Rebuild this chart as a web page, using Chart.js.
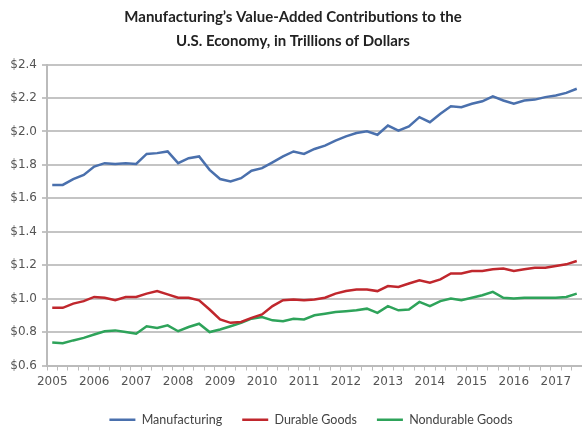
<!DOCTYPE html>
<html lang="en">
  <head>
    <meta charset="UTF-8" />
    <title>Manufacturing Value-Added</title>
    <script src="https://cdn.jsdelivr.net/npm/chart.js"></script>
    <style>
      body {
        margin: 0;
        padding: 0;
        background: #fff;
      }
      .chart-container {
        width: 582px;
        height: 426px;
        position: relative;
      }
    </style>
  </head>
  <body>
    <div class="chart-container">
      <canvas id="valueChart"></canvas>
    </div>

    <script>
      // Quarterly categories, 2005 Q1 to 2017 Q3
      const quarters = [
        "2005Q1", "2005Q2", "2005Q3", "2005Q4",
        "2006Q1", "2006Q2", "2006Q3", "2006Q4",
        "2007Q1", "2007Q2", "2007Q3", "2007Q4",
        "2008Q1", "2008Q2", "2008Q3", "2008Q4",
        "2009Q1", "2009Q2", "2009Q3", "2009Q4",
        "2010Q1", "2010Q2", "2010Q3", "2010Q4",
        "2011Q1", "2011Q2", "2011Q3", "2011Q4",
        "2012Q1", "2012Q2", "2012Q3", "2012Q4",
        "2013Q1", "2013Q2", "2013Q3", "2013Q4",
        "2014Q1", "2014Q2", "2014Q3", "2014Q4",
        "2015Q1", "2015Q2", "2015Q3", "2015Q4",
        "2016Q1", "2016Q2", "2016Q3", "2016Q4",
        "2017Q1", "2017Q2", "2017Q3",
      ];

      // Trillions of dollars
      const manufacturing = [
        1.68, 1.68, 1.715, 1.74, 1.79, 1.81, 1.805, 1.81, 1.805, 1.865,
        1.87, 1.88, 1.81, 1.84, 1.85, 1.77, 1.715, 1.7, 1.72, 1.765,
        1.78, 1.815, 1.85, 1.88, 1.865, 1.895, 1.915, 1.945, 1.97, 1.99,
        2.0, 1.98, 2.035, 2.005, 2.03, 2.085, 2.055, 2.105, 2.15, 2.145,
        2.165, 2.18, 2.21, 2.185, 2.165, 2.185, 2.19, 2.205, 2.215, 2.23,
        2.255,
      ];
      const durableGoods = [
        0.945, 0.945, 0.97, 0.985, 1.01, 1.005, 0.99, 1.01, 1.01, 1.03,
        1.045, 1.025, 1.005, 1.005, 0.99, 0.935, 0.875, 0.855, 0.86, 0.885,
        0.905, 0.955, 0.99, 0.995, 0.99, 0.995, 1.005, 1.03, 1.045, 1.055,
        1.055, 1.045, 1.075, 1.07, 1.09, 1.11, 1.095, 1.115, 1.15, 1.15,
        1.165, 1.165, 1.175, 1.18, 1.165, 1.175, 1.185, 1.185, 1.195, 1.205,
        1.225,
      ];
      const nondurableGoods = [
        0.737, 0.733, 0.75, 0.765, 0.785, 0.805, 0.81, 0.8, 0.79, 0.835,
        0.825, 0.84, 0.805, 0.83, 0.85, 0.8, 0.815, 0.835, 0.855, 0.88,
        0.89, 0.87, 0.865, 0.88, 0.875, 0.9, 0.91, 0.92, 0.925, 0.93,
        0.94, 0.915, 0.955, 0.93, 0.935, 0.98, 0.955, 0.985, 1.0, 0.99,
        1.005, 1.02, 1.04, 1.005, 1.0, 1.005, 1.005, 1.005, 1.005, 1.01,
        1.03,
      ];

      // Y axis range
      const yMin = 0.6;
      const yMax = 2.4;
      const yStep = 0.2;

      // the legend in the picture sits centred under the plot, not the page
      const legendShift = {
        id: "legendShift",
        afterLayout(chart) {
          chart.legend.left += 18;
          chart.legend.right += 18;
        },
      };

      const ctx = document.getElementById("valueChart").getContext("2d");
      const valueChart = new Chart(ctx, {
        type: "line",
        data: {
          labels: quarters,
          datasets: [
            {
              label: "Manufacturing",
              data: manufacturing,
              borderColor: "#4a70ad",
              backgroundColor: "#4a70ad",
              borderWidth: 2.5,
            },
            {
              label: "Durable Goods",
              data: durableGoods,
              borderColor: "#c0272d",
              backgroundColor: "#c0272d",
              borderWidth: 2.5,
            },
            {
              label: "Nondurable Goods",
              data: nondurableGoods,
              borderColor: "#2ea35a",
              backgroundColor: "#2ea35a",
              borderWidth: 2.5,
            },
          ],
        },
        plugins: [legendShift],
        options: {
          responsive: true,
          maintainAspectRatio: false,
          animation: false,
          layout: {
            padding: { left: 0, right: -4, top: 0, bottom: -10 },
          },
          elements: {
            point: { radius: 0 },
            line: { tension: 0 },
          },
          plugins: {
            title: {
              display: true,
              text: [
                "Manufacturing\u2019s Value-Added Contributions to the",
                "U.S. Economy, in Trillions of Dollars",
              ],
              color: "#222",
              font: { family: "Lato", size: 15, weight: "bold", lineHeight: 1.55 },
              padding: { top: 6, bottom: 12 },
            },
            legend: {
              position: "bottom",
              labels: {
                usePointStyle: true,
                pointStyle: "line",
                pointStyleWidth: 26,
                color: "#444",
                font: { family: "Lato", size: 12.5 },
                padding: 20,
              },
            },
            tooltip: { enabled: false },
          },
          scales: {
            x: {
              offset: true,
              afterFit: function (scale) {
                scale.height = 28;
              },
              grid: {
                offset: true,
                drawOnChartArea: false,
                drawTicks: true,
                tickLength: 5,
                color: "#bbb",
              },
              border: { color: "#bbb", width: 2 },
              ticks: {
                autoSkip: false,
                maxRotation: 0,
                padding: 4,
                color: "#555",
                font: { family: "DejaVu Sans", size: 12 },
                callback: function (value, index) {
                  const q = quarters[index];
                  return q.endsWith("Q1") ? q.slice(0, 4) : "";
                },
              },
            },
            y: {
              min: yMin,
              max: yMax,
              afterFit: function (scale) {
                scale.width = 47;
              },
              grid: {
                color: "#c4c4c4",
                lineWidth: 2,
                drawTicks: true,
                tickLength: 5,
              },
              border: { color: "#bbb", width: 2 },
              ticks: {
                stepSize: yStep,
                padding: 5,
                color: "#555",
                font: { family: "DejaVu Sans", size: 12 },
                callback: function (value) {
                  return "$" + value.toFixed(1);
                },
              },
            },
          },
        },
      });
    </script>
  </body>
</html>
